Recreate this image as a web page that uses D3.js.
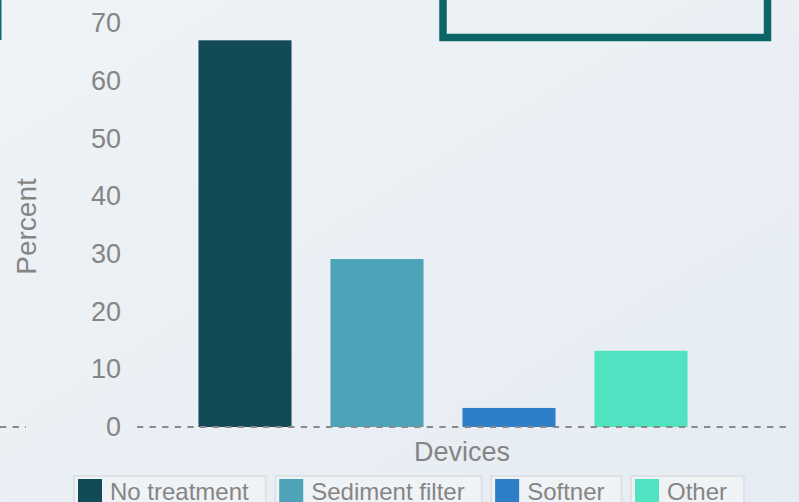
<!DOCTYPE html>
<html>
<head>
<meta charset="utf-8">
<script src="https://cdn.jsdelivr.net/npm/d3@7"></script>
<style>
  html, body { margin: 0; padding: 0; overflow: hidden; }
  svg { display: block; font-family: "Liberation Sans", Arial, sans-serif; }
</style>
</head>
<body>
<div id="chart"></div>
<script>
// chart data
const devices = ["No treatment", "Sediment filter", "Softner", "Other"]
const percents = [67, 29.1, 3.3, 13.2]
const colors = ["#124a56", "#4da3b7", "#2e7fc8", "#50e3c2"]
const yTicks = [0, 10, 20, 30, 40, 50, 60, 70]

const width = 799
const height = 502

const svg = d3.select("#chart")
  .append("svg")
  .attr("width", width)
  .attr("height", height)

// background gradient
const grad = svg.append("defs").append("linearGradient")
  .attr("id", "bg")
  .attr("x1", "0%").attr("y1", "0%")
  .attr("x2", "100%").attr("y2", "100%")
grad.append("stop").attr("offset", "0%").attr("stop-color", "#eff3f6")
grad.append("stop").attr("offset", "100%").attr("stop-color", "#e5ecf3")

svg.append("rect")
  .attr("width", width)
  .attr("height", height)
  .attr("fill", "url(#bg)")

// bits of the surrounding slide
svg.append("rect")
  .attr("x", 0).attr("y", 0)
  .attr("width", 1.5).attr("height", 40)
  .attr("fill", "#0e6a6e")

svg.append("rect")
  .attr("x", 443).attr("y", -20)
  .attr("width", 324.5).attr("height", 57.5)
  .attr("fill", "none")
  .attr("stroke", "#0b6566")
  .attr("stroke-width", 7.5)

svg.append("line")
  .attr("x1", 0).attr("x2", 26)
  .attr("y1", 427).attr("y2", 427)
  .attr("stroke", "#8a8a8a")
  .attr("stroke-width", 2)
  .attr("stroke-dasharray", "6.3,6.3")

// scales
const x = d3.scaleBand()
  .domain(devices)
  .range([179, 707])
  .paddingInner(0.295)
  .paddingOuter(0.1475)

const y = d3.scaleLinear()
  .domain([0, 70])
  .range([427, 23])

// y axis labels
const yAxis = d3.axisLeft(y)
  .tickValues(yTicks)
  .tickSize(0)
  .tickPadding(0)

const yg = svg.append("g")
  .attr("transform", "translate(121,0)")
  .call(yAxis)
yg.select(".domain").remove()
yg.selectAll("text")
  .attr("fill", "#858585")
  .style("font-size", "27px")
  .style("font-family", "'Liberation Sans', Arial, sans-serif")

// bars
svg.append("g")
  .selectAll("rect")
  .data(devices)
  .enter()
  .append("rect")
  .attr("x", d => x(d))
  .attr("width", x.bandwidth())
  .attr("y", (d, i) => y(percents[i]))
  .attr("height", (d, i) => y(0) - y(percents[i]))
  .attr("fill", (d, i) => colors[i])

// dashed zero line
svg.append("line")
  .attr("x1", 137).attr("x2", 792)
  .attr("y1", y(0)).attr("y2", y(0))
  .attr("stroke", "#8a8a8a")
  .attr("stroke-width", 2)
  .attr("stroke-dasharray", "6.3,6.3")

// axis titles
svg.append("text")
  .attr("transform", "translate(36,226.5) rotate(-90)")
  .attr("text-anchor", "middle")
  .attr("fill", "#858585")
  .style("font-size", "28px")
  .text("Percent")

svg.append("text")
  .attr("x", 462)
  .attr("y", 461)
  .attr("text-anchor", "middle")
  .attr("fill", "#858585")
  .style("font-size", "27px")
  .text("Devices")

// legend (bottom row is clipped by the frame, as in the original)
const legend = svg.append("g")
let lx = 74
devices.forEach(function(d, i) {
  const item = legend.append("g")
  const box = item.append("rect")
    .attr("x", lx).attr("y", 476)
    .attr("height", 40)
    .attr("fill", "#f0f3f5")
    .attr("stroke", "#dfe2e5")
    .attr("stroke-width", 2)
  item.append("rect")
    .attr("x", lx + 4).attr("y", 479)
    .attr("width", 24).attr("height", 24)
    .attr("fill", colors[i])
  const t = item.append("text")
    .attr("x", lx + 36)
    .attr("y", 500)
    .attr("fill", "#858585")
    .style("font-size", "24px")
    .text(d)
  const w = 36 + t.node().getComputedTextLength() + 17
  box.attr("width", w)
  lx += w + 9.5
})
</script>
</body>
</html>
